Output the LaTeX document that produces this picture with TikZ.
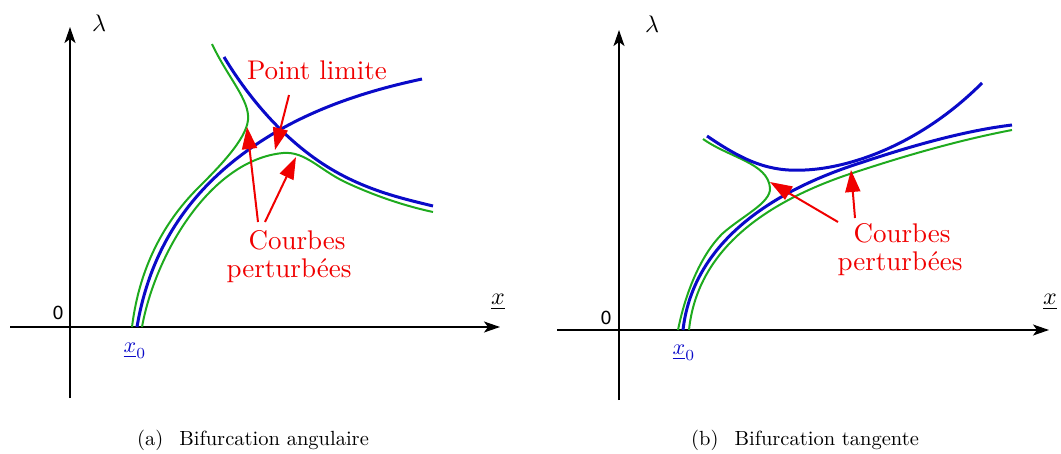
\documentclass[tikz,border=0pt]{standalone}
\usepackage{fontspec}
\newfontfamily\zerofont{DejaVu Sans}
\usetikzlibrary{arrows.meta}
\definecolor{cblue}{RGB}{10,10,200}
\definecolor{cgreen}{RGB}{30,170,30}
\definecolor{cred}{RGB}{240,0,0}
\tikzset{
  axis/.style={line width=1.4pt, -{Stealth[length=16pt,width=11pt,inset=4pt]}},
  bcurve/.style={cblue, line width=3pt},
  gcurve/.style={cgreen, line width=2pt},
  redarrow/.style={cred, line width=2pt, -{Triangle[length=22pt,width=15pt]}},
  redlabel/.style={cred, font=\fontsize{10}{11.8}\selectfont, align=center, inner sep=0pt, scale=2.7, transform shape},
  caption/.style={font=\fontsize{10}{12}\selectfont, inner sep=0pt, scale=2.05, transform shape},
  zerolab/.style={font=\zerofont\fontsize{10}{12}\selectfont, inner sep=0pt, scale=1.8, transform shape},
  mathlab/.style={inner sep=0pt, font=\fontsize{10}{12}\selectfont, scale=2.4, transform shape},
}
\begin{document}
\begin{tikzpicture}[x=1pt,y=-1pt]
\useasboundingbox (0,0) rectangle (1061,453);
% ================= Panel (a) =================
\coordinate (ayb) at (70,398);
\coordinate (ayt) at (70,27);
\coordinate (ao) at (70,327);
\coordinate (axl) at (10,327);
\coordinate (axr) at (500,327);
\draw[line width=1.4pt] (ayb) -- (ao);
\draw[axis] (ao) -- (ayt);
\draw[axis] (axl) -- (axr);
\node[mathlab] (alam) at (99,23) {$\lambda$};
\node[zerolab] (azero) at (58,313) {0};
\node[mathlab] (axlab) at (498,302) {$\underline{x}$};
\node[mathlab, cblue, scale=0.92] (ax0) at (135,351) {$\underline{x}_0$};
% green curves (a)
\draw[gcurve] (212,44) .. controls (228,78) and (250,100) .. (248,120)
  .. controls (246,140) and (218,168) .. (198,188)
  .. controls (168,218) and (140,262) .. (132,327);
\draw[gcurve] (142,327) .. controls (155,255) and (210,160) .. (283,153)
  .. controls (305,151) and (320,170) .. (345,182)
  .. controls (375,196) and (405,206) .. (433,212);
% blue curves (a)
\draw[bcurve] (137,327) .. controls (150,250) and (190,180) .. (283,128)
  .. controls (330,102) and (380,88) .. (422,79);
\draw[bcurve] (224,57) .. controls (250,100) and (283,137) .. (320,162)
  .. controls (360,189) and (400,198) .. (433,206);
% labels (a)
\node[redlabel] (apl) at (317,70) {Point limite};
\node[redlabel] (acou) at (297,240) {Courbes};
\node[redlabel] (aper) at (289,271) {perturbées};
\coordinate (apt) at (289,95);
\coordinate (apl1) at (275,150);
\coordinate (act1) at (258,222);
\coordinate (act2) at (265,222);
\coordinate (ac1) at (247,127);
\coordinate (ac2) at (296,157);
\draw[redarrow] (apt) -- (apl1);
\draw[redarrow] (act1) -- (ac1);
\draw[redarrow] (act2) -- (ac2);
\node[caption] (acap) at (253,440) {(a)\hspace{0.45em} Bifurcation angulaire};
% ================= Panel (b) =================
\coordinate (byb) at (619,400);
\coordinate (byt) at (619,30);
\coordinate (bo) at (619,330);
\coordinate (bxl) at (557,330);
\coordinate (bxr) at (1049,330);
\draw[line width=1.4pt] (byb) -- (bo);
\draw[axis] (bo) -- (byt);
\draw[axis] (bxl) -- (bxr);
\node[mathlab] (blam) at (652,24) {$\lambda$};
\node[zerolab] (bzero) at (606,318) {0};
\node[mathlab] (bxlab) at (1050,302) {$\underline{x}$};
\node[mathlab, cblue, scale=0.92] (bx0) at (684,353) {$\underline{x}_0$};
% green curves (b)
\draw[gcurve] (703,139) .. controls (730,158) and (768,163) .. (770,188)
  .. controls (771,203) and (742,216) .. (722,234)
  .. controls (702,254) and (686,290) .. (678,330);
\draw[gcurve] (689,330) .. controls (697,252) and (762,201) .. (862,170)
  .. controls (920,151) and (970,138) .. (1012,130);
% blue curves (b)
\draw[bcurve] (683,330) .. controls (692,250) and (760,195) .. (860,163)
  .. controls (920,143) and (970,130) .. (1012,125);
\draw[bcurve] (707,136) .. controls (745,162) and (770,172) .. (805,170)
  .. controls (850,168) and (920,145) .. (982,83);
% labels (b)
\node[redlabel] (bcou) at (902,233) {Courbes};
\node[redlabel] (bper) at (900,264) {perturbées};
\coordinate (bct1) at (838,222);
\coordinate (bct2) at (855,218);
\coordinate (bc1) at (770,182);
\coordinate (bc2) at (851,170);
\draw[redarrow] (bct1) -- (bc1);
\draw[redarrow] (bct2) -- (bc2);
\node[caption] (bcap) at (805,440) {(b)\hspace{0.45em} Bifurcation tangente};
\end{tikzpicture}
\end{document}
